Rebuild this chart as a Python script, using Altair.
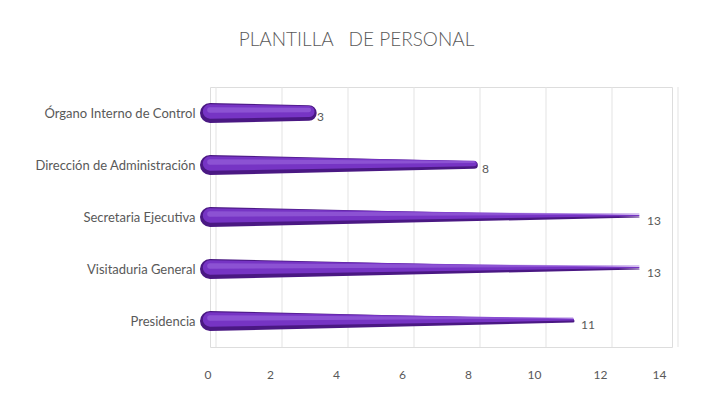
import altair as alt
import pandas as pd

categories = ["Órgano Interno de Control", "Dirección de Administración",
              "Secretaria Ejecutiva", "Visitaduria General", "Presidencia"]
values = [3, 8, 13, 13, 11]
x_ticks = [0, 2, 4, 6, 8, 10, 12, 14]
title_text = "PLANTILLA\u00a0\u00a0 DE PERSONAL"

df = pd.DataFrame({"categoria": categories, "valor": values})
grid_df = pd.DataFrame({"t": x_ticks})

FONT = "Lato"
GRAY = "#595959"
BASE_W = 20

xscale = alt.Scale(domain=[0, 14], nice=False, zero=True)
yenc = alt.Y("categoria:N", sort=categories, title=None,
             axis=alt.Axis(domain=False, ticks=False, labelPadding=15,
                           labelFont=FONT, labelFontSize=13, labelColor=GRAY,
                           labelLimit=300),
             scale=alt.Scale(type="point", padding=0.5))

grid = alt.Chart(grid_df).mark_rule(color="#e3e3e3", strokeWidth=1, xOffset=6).encode(
    x=alt.X("t:Q", scale=xscale, title=None,
            axis=alt.Axis(values=x_ticks, domain=False, ticks=False, grid=False,
                          labelPadding=22, labelOffset=-6, labelFont=FONT,
                          labelFontSize=12, labelColor=GRAY))
)

cone_base = alt.Chart(df).transform_calculate(
    inicio="0"
).transform_calculate(
    inicio="toNumber(datum.inicio)"
).transform_joinaggregate(
    vmax="max(valor)"
).transform_fold(
    ["inicio", "valor"], as_=["extremo", "xpos"]
).transform_calculate(
    w=f"{BASE_W} * (datum.vmax - datum.xpos) / datum.vmax",
    w2=f"{BASE_W} * 0.72 * (datum.vmax - datum.xpos) / datum.vmax",
    w3=f"{BASE_W} * 0.28 * (datum.vmax - datum.xpos) / datum.vmax",
)

def cone(color, size_field, yoff, opacity=1.0):
    return cone_base.mark_trail(color=color, yOffset=yoff, opacity=opacity).encode(
        x=alt.X("xpos:Q", scale=xscale),
        y=yenc,
        detail="categoria:N",
        order=alt.Order("xpos:Q"),
        size=alt.Size(f"{size_field}:Q", scale=None, legend=None),
    )

dark = cone("#4a1883", "w", 0)
mid = cone("#7634c4", "w2", -1.5)
hi = cone("#9560da", "w3", -3, 0.7)

labels = alt.Chart(df).mark_text(align="left", dx=8, dy=4, font=FONT,
                                 fontSize=12, color=GRAY).encode(
    x=alt.X("valor:Q", scale=xscale),
    y=yenc,
    text="valor:Q",
)

chart = alt.layer(grid, dark, mid, hi, labels).properties(
    width=462,
    height=260,
    title=alt.TitleParams(title_text, font=FONT, fontSize=19, fontWeight=300,
                          color=GRAY, anchor="middle", frame="bounds", offset=37),
    padding={"top": 22, "left": 26, "right": 10, "bottom": 5},
).configure_view(stroke=None).configure(background="white")

chart.save("out.html", embed_options={"renderer": "svg", "actions": False})
